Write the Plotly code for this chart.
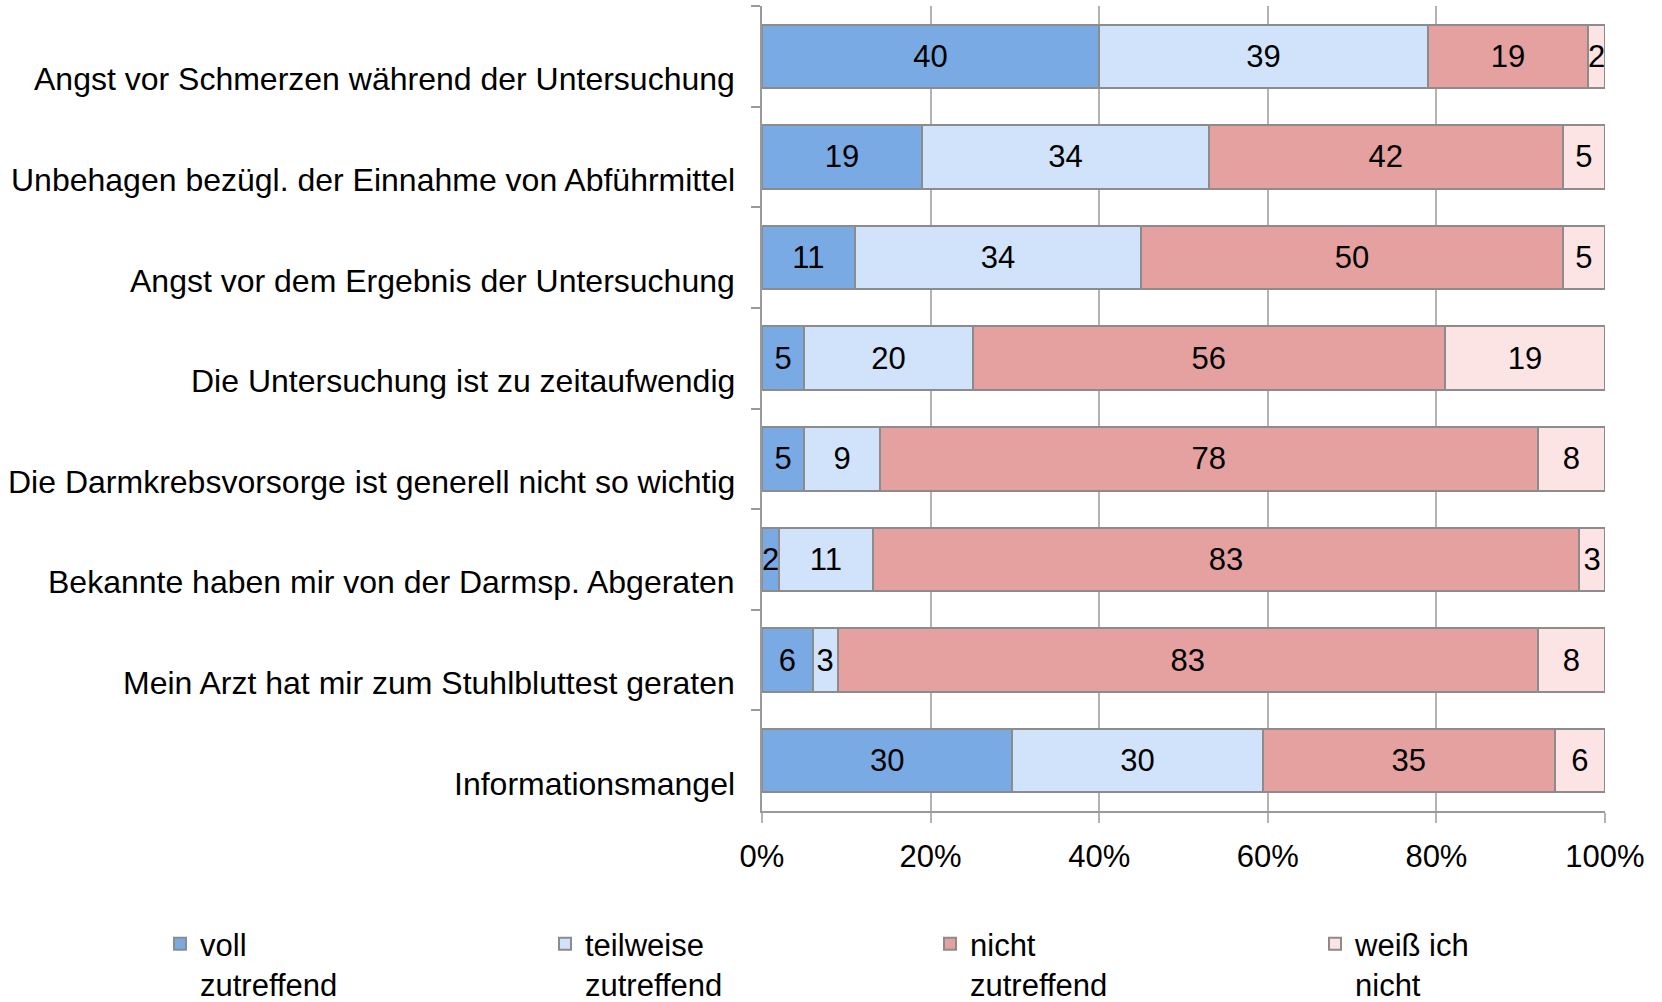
import plotly.graph_objects as go

categories = [
    "Angst vor Schmerzen während der Untersuchung",
    "Unbehagen bezügl. der Einnahme von Abführmittel",
    "Angst vor dem Ergebnis der Untersuchung",
    "Die Untersuchung ist zu zeitaufwendig",
    "Die Darmkrebsvorsorge ist generell nicht so wichtig",
    "Bekannte haben mir von der Darmsp. Abgeraten",
    "Mein Arzt hat mir zum Stuhlbluttest geraten",
    "Informationsmangel",
]
voll = [40, 19, 11, 5, 5, 2, 6, 30]
teilweise = [39, 34, 34, 20, 9, 11, 3, 30]
nicht = [19, 42, 50, 56, 78, 83, 83, 35]
weiss = [2, 5, 5, 19, 8, 3, 8, 6]
series_names = ["voll<br>zutreffend", "teilweise<br>zutreffend", "nicht<br>zutreffend", "weiß ich<br>nicht"]
series_values = [voll, teilweise, nicht, weiss]
colors = ["#7AAAE4", "#D0E3FA", "#E5A0A0", "#FDE4E4"]
x_tickvals = [0, 20, 40, 60, 80, 100]
x_ticktext = ["0%", "20%", "40%", "60%", "80%", "100%"]

FONT = "Liberation Sans, Arial, sans-serif"
FS = 31
W, H = 1662, 1002

legend_ids = ["legend", "legend2", "legend3", "legend4"]
legend_x_px = [160, 545, 930, 1315]

fig = go.Figure()
for name, vals, col, lid in zip(series_names, series_values, colors, legend_ids):
    fig.add_trace(go.Bar(
        y=categories, x=vals, name=name, orientation="h", legend=lid,
        marker=dict(color=col, line=dict(color="#8C8C8C", width=2)),
        text=[str(v) for v in vals], texttemplate="%{text}",
        textposition="inside", insidetextanchor="middle",
        constraintext="none",
        textfont=dict(family=FONT, size=FS, color="black"),
        hoverinfo="skip",
    ))

for c in categories:
    fig.add_annotation(
        x=0, xref="paper", y=c, yref="y", text=c, showarrow=False,
        xanchor="right", yanchor="middle", xshift=-25, yshift=-23,
        font=dict(family=FONT, size=32, color="black"),
    )

legend_common = dict(
    orientation="h", xref="container", yref="container",
    y=1 - 917 / H, xanchor="left", yanchor="top", valign="top",
    itemclick=False, itemdoubleclick=False, bgcolor="rgba(0,0,0,0)",
    font=dict(family=FONT, size=FS, color="black"),
)
legends = {}
for lid, px in zip(legend_ids, legend_x_px):
    legends[lid] = dict(x=px / W, **legend_common)

fig.update_layout(
    width=W, height=H,
    barmode="stack", barnorm="percent", bargap=0.368,
    plot_bgcolor="white", paper_bgcolor="white",
    margin=dict(l=762, r=57, t=6, b=191, autoexpand=False),
    font=dict(family=FONT, size=FS, color="black"),
    showlegend=True,
    xaxis=dict(
        range=[0, 100], tickvals=x_tickvals, ticktext=x_ticktext,
        showgrid=True, gridcolor="#B3B3B3", gridwidth=2,
        showline=True, linecolor="#9A9A9A", linewidth=2,
        ticks="outside", ticklen=10, tickwidth=2, tickcolor="#B3B3B3",
        ticklabelstandoff=7, zeroline=False, fixedrange=True,
    ),
    yaxis=dict(
        autorange="reversed", showticklabels=False,
        showline=True, linecolor="#9A9A9A", linewidth=2,
        mirror=False, ticks="outside", tickson="boundaries",
        ticklen=9, tickwidth=2, tickcolor="#9A9A9A",
        showgrid=False, fixedrange=True,
    ),
    **legends,
)

fig.write_html(
    "out.html",
    config={"displayModeBar": False},
    post_script="document.body.style.margin='0';document.body.style.overflow='hidden';",
)
